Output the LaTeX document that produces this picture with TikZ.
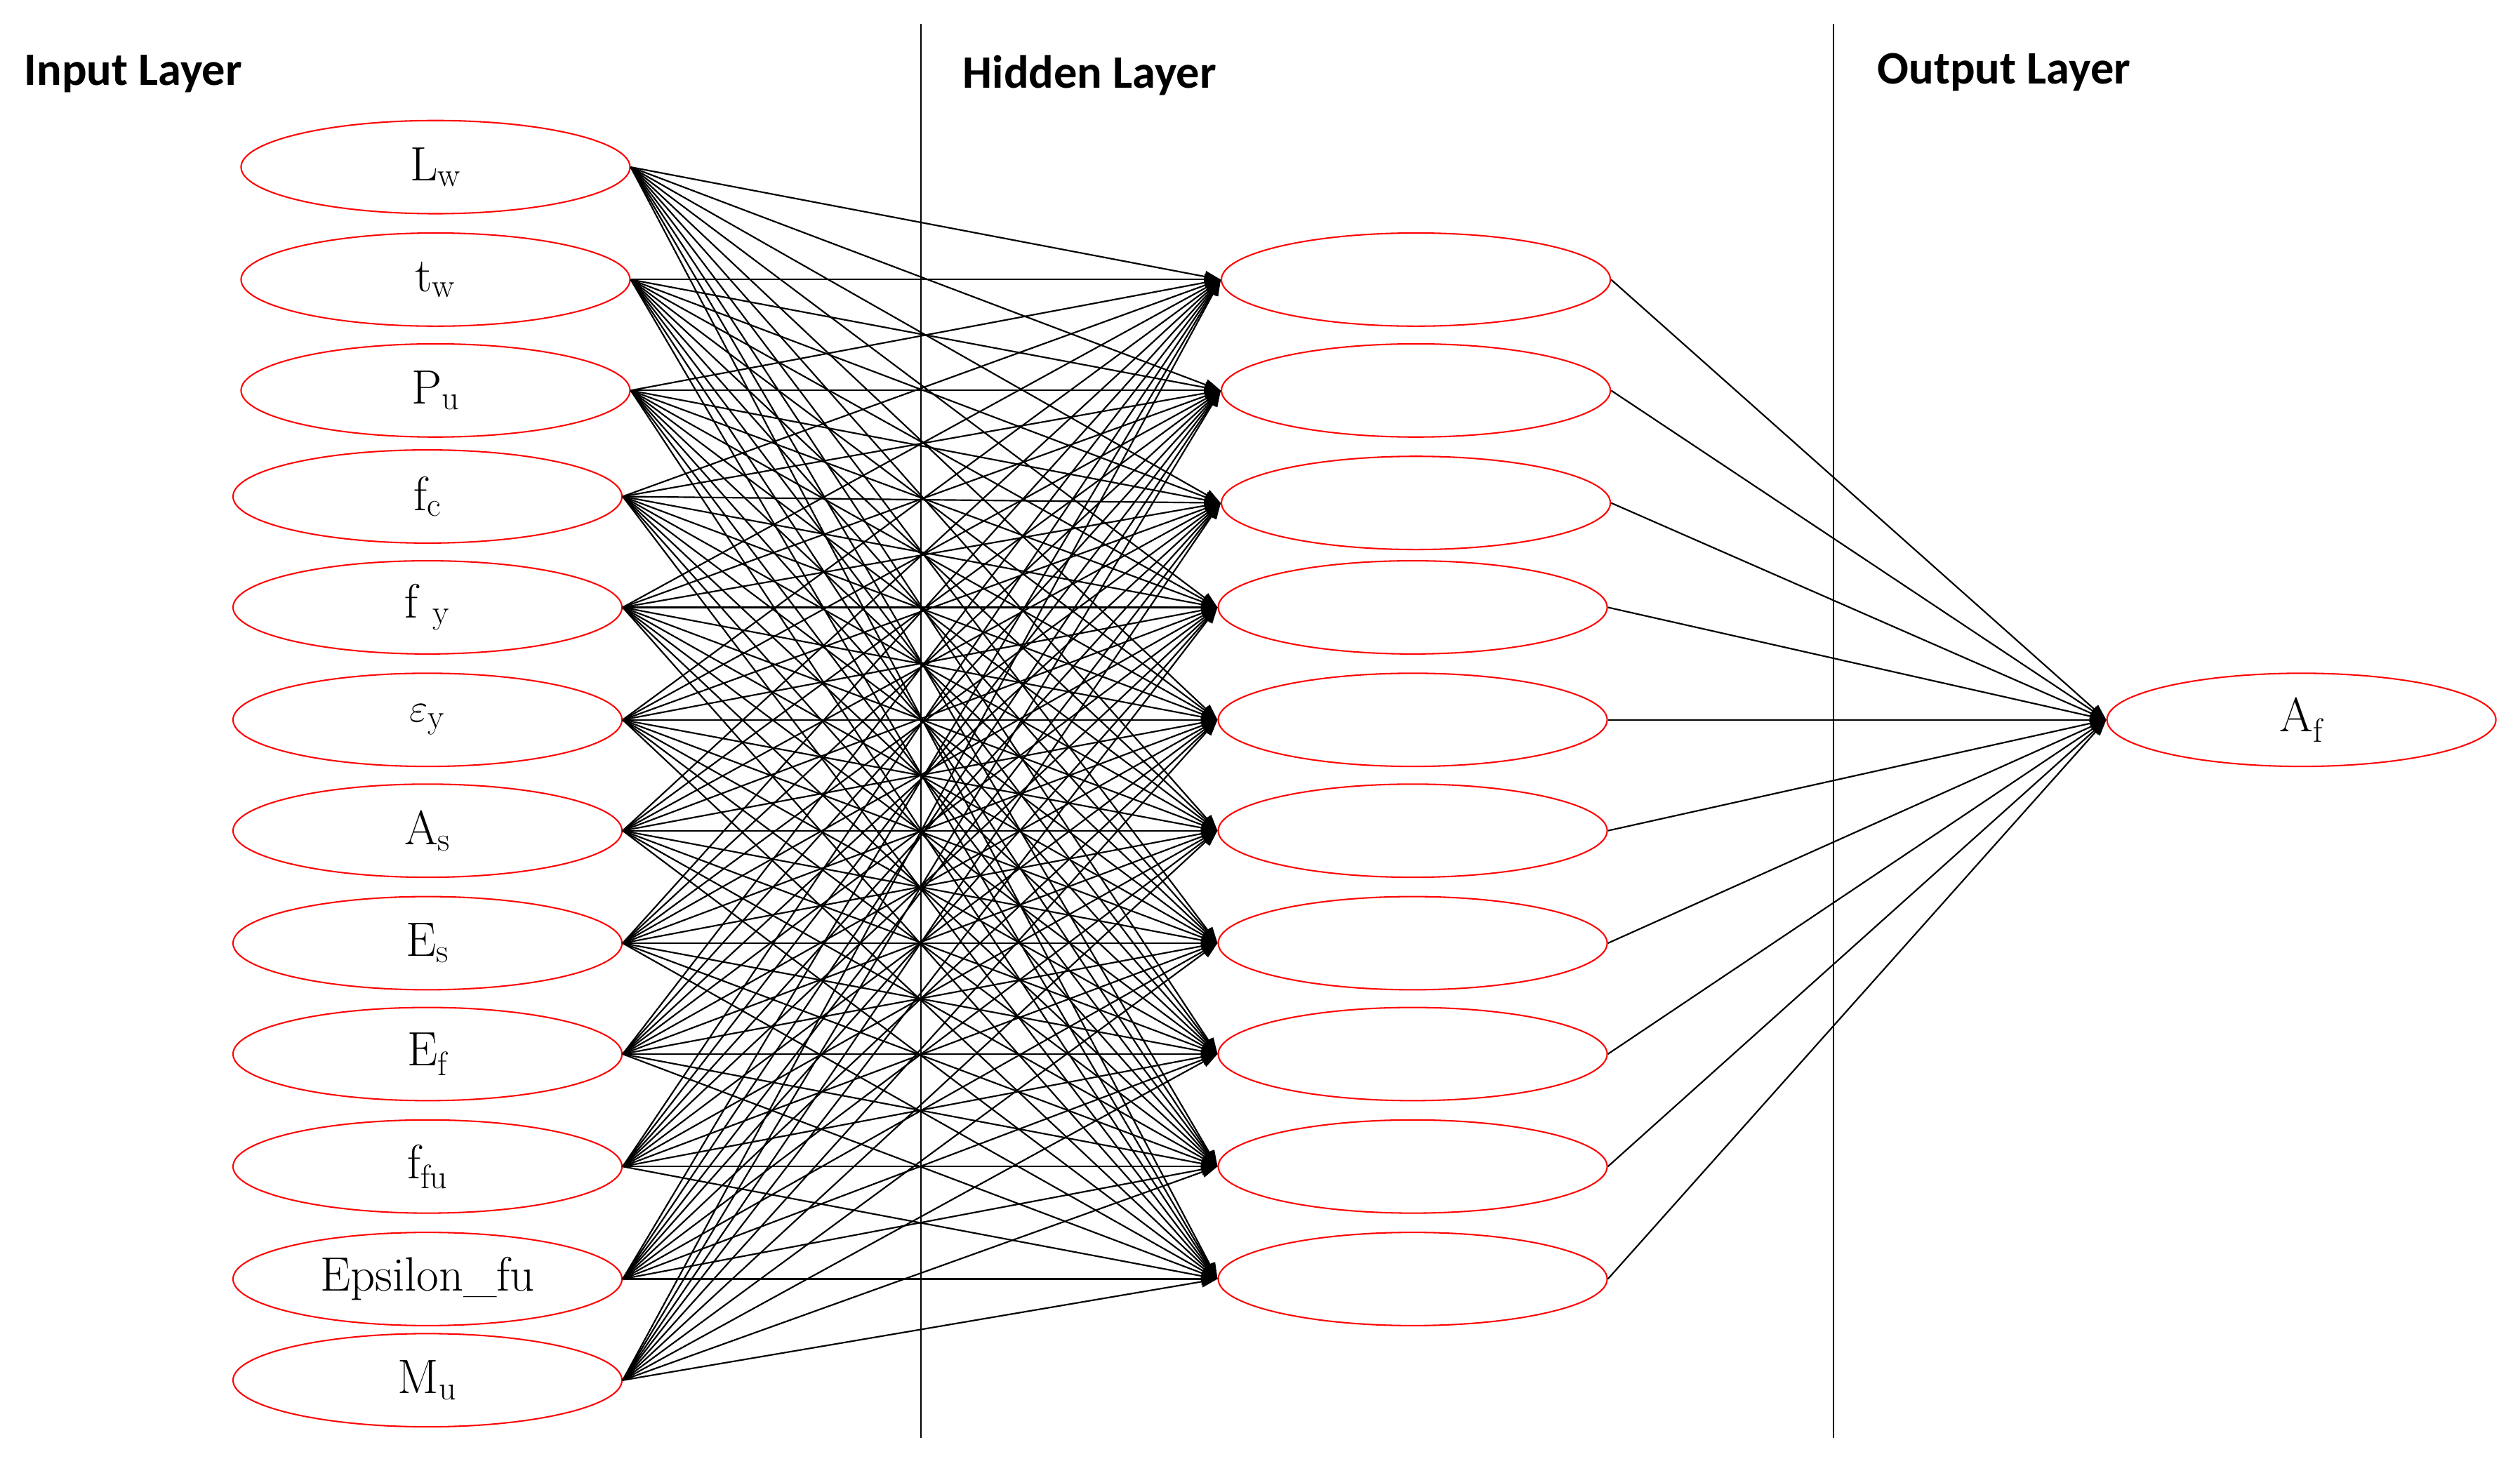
\documentclass[tikz,border=0pt]{standalone}
\usepackage{fontspec}
\newfontfamily\layerfont{Carlito}
\usetikzlibrary{shapes.geometric,arrows.meta}

\begin{document}
\begin{tikzpicture}[x=1pt,y=-1pt]
\tikzstyle{every node}+=[inner sep=0pt]
\tikzstyle{neuron}=[draw=red, line width=0.9pt, ellipse, minimum width=242pt, minimum height=58pt, font=\fontsize{30}{32}\selectfont]
\tikzstyle{layer}=[anchor=west, font=\layerfont\bfseries\fontsize{29}{31}\selectfont]
\tikzstyle{link}=[line width=0.95pt, -{Triangle[length=10pt,width=7pt]}]
\useasboundingbox (0,0) rectangle (1568,908);
% layer titles
\node[layer] (tin) at (15,46) {Input Layer};
\node[layer] (thid) at (599,47) {Hidden Layer};
\node[layer] (tout) at (1168,45) {Output Layer};
% separators
\coordinate (sa1) at (573,15);
\coordinate (sa2) at (573,895);
\coordinate (sb1) at (1141,15);
\coordinate (sb2) at (1141,895);
\draw [line width=0.9pt] (sa1) -- (sa2);
\draw [line width=0.9pt] (sb1) -- (sb2);
% input layer
\node[neuron] (in1) at (271,104) {L\textsubscript{w}};
\node[neuron] (in2) at (271,174) {t\textsubscript{w}};
\node[neuron] (in3) at (271,243) {P\textsubscript{u}};
\node[neuron] (in4) at (266,309) {f\textsubscript{c}};
\node[neuron] (in5) at (266,378) {f \textsubscript{y}};
\node[neuron] (in6) at (266,448) {$\varepsilon$\textsubscript{y}};
\node[neuron] (in7) at (266,517) {A\textsubscript{s}};
\node[neuron] (in8) at (266,587) {E\textsubscript{s}};
\node[neuron] (in9) at (266,656) {E\textsubscript{f}};
\node[neuron] (in10) at (266,726) {f\textsubscript{fu}};
\node[neuron] (in11) at (266,796) {Epsilon\_fu};
\node[neuron] (in12) at (266,859) {M\textsubscript{u}};
% hidden layer
\node[neuron] (h1) at (881,174) {};
\node[neuron] (h2) at (881,243) {};
\node[neuron] (h3) at (881,313) {};
\node[neuron] (h4) at (879,378) {};
\node[neuron] (h5) at (879,448) {};
\node[neuron] (h6) at (879,517) {};
\node[neuron] (h7) at (879,587) {};
\node[neuron] (h8) at (879,656) {};
\node[neuron] (h9) at (879,726) {};
\node[neuron] (h10) at (879,796) {};
% output layer
\node[neuron] (out) at (1432,448) {A\textsubscript{f}};
% connections
\foreach \i in {1,...,12}
  \foreach \j in {1,...,10}
    \draw [link] (in\i.east) -- (h\j.west);
\foreach \j in {1,...,10}
  \draw [link] (h\j.east) -- (out.west);
\end{tikzpicture}
\end{document}
